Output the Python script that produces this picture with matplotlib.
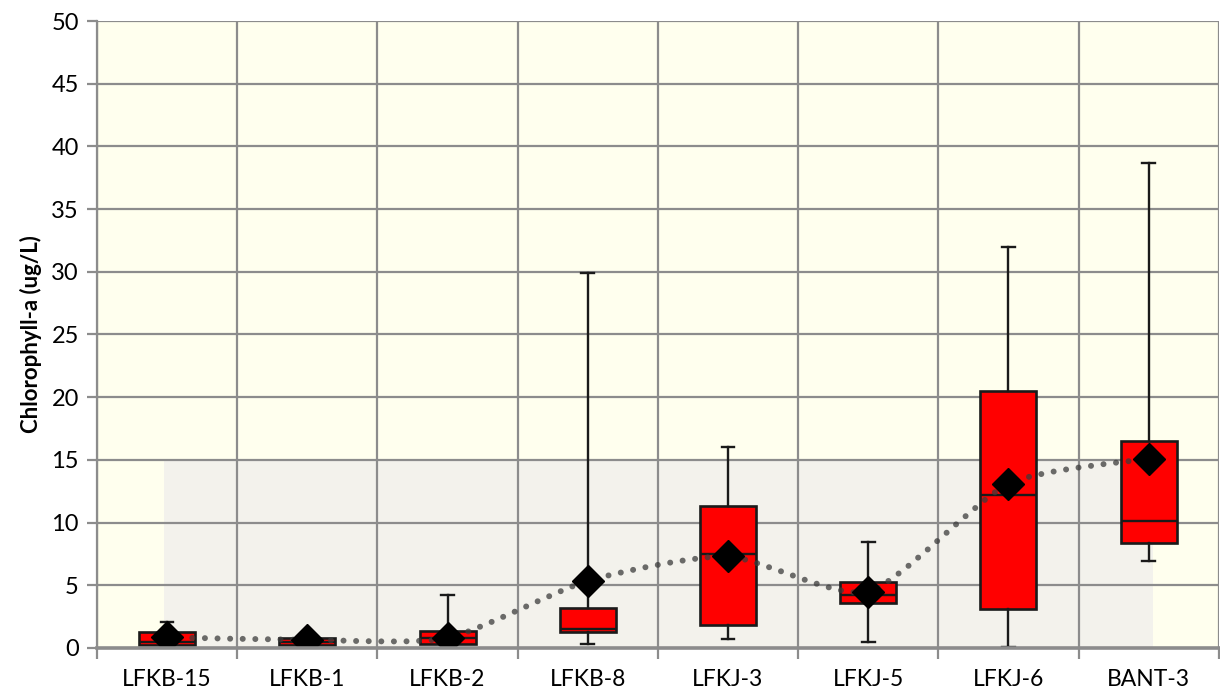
import matplotlib.pyplot as plt
from matplotlib.path import Path
from matplotlib.patches import PathPatch, Rectangle

plt.rcParams['font.family'] = ['Lato', 'DejaVu Sans']

# data
sites = ["LFKB-15", "LFKB-1", "LFKB-2", "LFKB-8", "LFKJ-3", "LFKJ-5", "LFKJ-6", "BANT-3"]
whis_low = [0.2, 0.15, 0.3, 0.3, 0.7, 0.45, 0.05, 6.9]
q1 = [0.25, 0.2, 0.35, 1.25, 1.8, 3.6, 3.1, 8.4]
median = [0.5, 0.5, 0.8, 1.5, 7.5, 4.25, 12.2, 10.1]
q3 = [1.25, 0.77, 1.35, 3.2, 11.35, 5.3, 20.5, 16.5]
whis_high = [2.1, 0.9, 4.2, 29.9, 16.0, 8.45, 32.0, 38.7]
means = [0.85, 0.65, 0.8, 5.35, 7.3, 4.5, 13.1, 15.1]

fig = plt.figure(figsize=(12.2, 6.96), dpi=100)
ax = fig.add_axes([0.0795, 0.069, 0.9195, 0.9008])
ax.set_facecolor('#FFFFEE')

x = list(range(len(sites)))
ax.set_xlim(-0.5, len(sites) - 0.5)
ax.set_ylim(0, 50)

# grey band 0-15
ax.add_patch(Rectangle((-0.02, 0), len(sites) - 1 + 0.05, 15,
                       facecolor='#F3F2EC', edgecolor='none', zorder=0.5))

grid_c = '#8C8C8C'
for k in range(len(sites) + 1):
    ax.axvline(k - 0.5, color=grid_c, lw=1.6, zorder=1)
for v in range(5, 51, 5):
    ax.axhline(v, color=grid_c, lw=1.6, zorder=1)

stats = []
for i in range(len(sites)):
    stats.append(dict(whislo=whis_low[i], q1=q1[i], med=median[i], q3=q3[i],
                      whishi=whis_high[i], fliers=[]))
ax.bxp(stats, positions=x, widths=0.4, patch_artist=True, showfliers=False,
       boxprops=dict(facecolor='#FF0000', edgecolor='#1A1A1A', lw=1.9),
       medianprops=dict(color='#1A1A1A', lw=1.7),
       whiskerprops=dict(color='#1A1A1A', lw=1.7),
       capprops=dict(color='#1A1A1A', lw=1.7),
       capwidths=0.09, zorder=3)

# smoothed dotted line through the means (Excel-style bezier)
pts = [ax.transData.transform((xi, yi)) for xi, yi in zip(x, means)]
verts = [tuple(pts[0])]
codes = [Path.MOVETO]
n = len(pts)
for i in range(n - 1):
    p0 = pts[max(i - 1, 0)]
    p1 = pts[i]
    p2 = pts[i + 1]
    p3 = pts[min(i + 2, n - 1)]
    c1 = p1 + (p2 - p0) / 9.0
    c2 = p2 - (p3 - p1) / 9.0
    verts += [tuple(c1), tuple(c2), tuple(p2)]
    codes += [Path.CURVE4] * 3
inv = ax.transData.inverted()
verts = [tuple(inv.transform(v)) for v in verts]
ax.add_patch(PathPatch(Path(verts, codes), facecolor='none', edgecolor='#3C3C3C',
                       alpha=0.75, lw=4.3, linestyle=(0, (0.01, 2.1)),
                       capstyle='round', zorder=4))

ax.plot(x, means, linestyle='none', marker='D', markersize=16,
        color='black', zorder=5)

ax.set_xticks(x)
ax.set_xticklabels(sites, fontsize=16.5)
ax.set_xticks([k - 0.5 for k in range(len(sites) + 1)], minor=True)
ax.tick_params(axis='x', which='major', length=0, pad=15)
ax.tick_params(axis='x', which='minor', length=8, width=1.6, color=grid_c)
ax.set_yticks(range(0, 51, 5))
ax.tick_params(axis='y', labelsize=17, length=7, width=1.6, color=grid_c, pad=6)

ax.set_ylabel('Chlorophyll-a (ug/L)', fontsize=16, fontweight='bold', labelpad=7)

for s in ['top', 'right']:
    ax.spines[s].set_visible(False)
ax.spines['left'].set_color(grid_c)
ax.spines['left'].set_linewidth(1.6)
ax.spines['bottom'].set_color(grid_c)
ax.spines['bottom'].set_linewidth(2.6)
ax.spines['bottom'].set_zorder(6)

fig.savefig('out.png', dpi=100)
